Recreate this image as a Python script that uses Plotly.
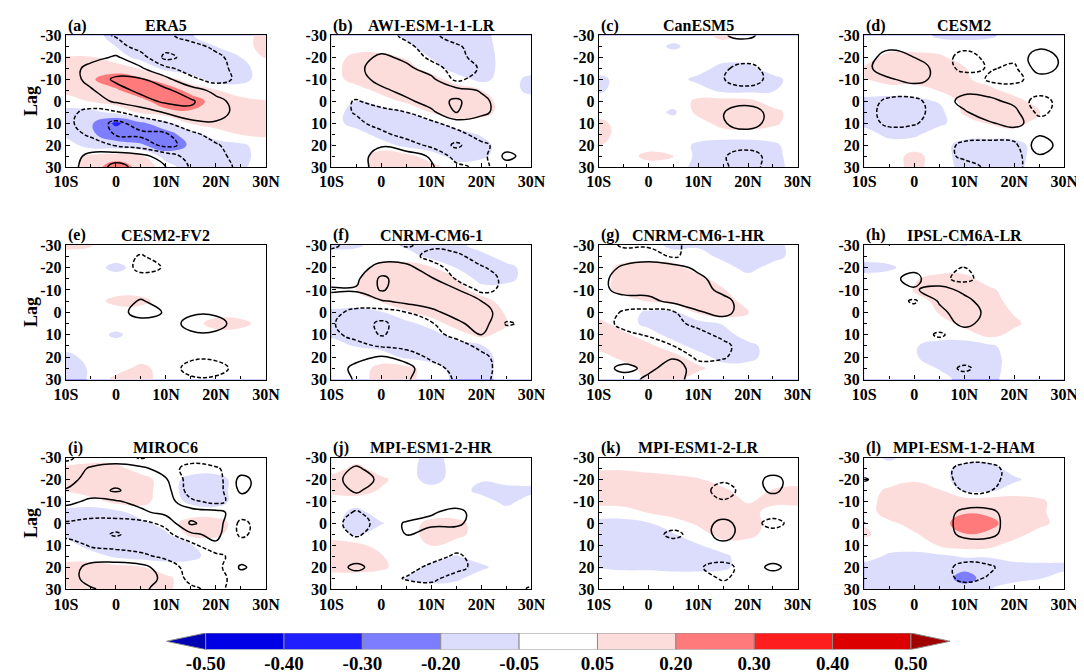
import numpy as np
import plotly.graph_objects as go

# grid: latitude (columns) and lag in days (rows)
lat = [-10, -5, 0, 5, 10, 15, 20, 25, 30]
lag = [-30, -25, -20, -15, -10, -5, 0, 5, 10, 15, 20, 25, 30]

lat_ticks = [-10, 0, 10, 20, 30]
lat_labels = ["10S", "0", "10N", "20N", "30N"]
lag_ticks = [-30, -20, -10, 0, 10, 20, 30]
lag_labels = ["-30", "-20", "-10", "0", "10", "20", "30"]

levels = [-0.5, -0.4, -0.3, -0.2, -0.05, 0.05, 0.2, 0.3, 0.4, 0.5]
level_labels = ["-0.50", "-0.40", "-0.30", "-0.20", "-0.05", "0.05", "0.20", "0.30", "0.40", "0.50"]
band_colors = ["#0000b4", "#0000e6", "#1e1eff", "#7d7dff", "#dcdcfd", "#ffffff",
               "#fddcdc", "#ff7a7a", "#ff1e1e", "#dc0000", "#a00000"]

letters = ["(a)", "(b)", "(c)", "(d)", "(e)", "(f)", "(g)", "(h)", "(i)", "(j)", "(k)", "(l)"]
models = ["ERA5", "AWI-ESM-1-1-LR", "CanESM5", "CESM2", "CESM2-FV2", "CNRM-CM6-1",
          "CNRM-CM6-1-HR", "IPSL-CM6A-LR", "MIROC6", "MPI-ESM1-2-HR", "MPI-ESM1-2-LR",
          "MPI-ESM-1-2-HAM"]

Z = [0, 0, 0, 0, 0, 0, 0, 0, 0]

# shaded field (rows = lag -30..30, cols = lat -10..30)
era5_fill = [
    [0, 0, -0.12, -0.15, -0.15, -0.06, 0, 0, 0.12],
    [0, 0, -0.05, -0.15, -0.15, -0.15, -0.05, 0, 0.12],
    [0.06, 0.06, 0, -0.1, -0.15, -0.15, -0.15, -0.05, 0.06],
    [0.15, 0.15, 0.12, 0.04, -0.1, -0.15, -0.15, -0.1, 0],
    [0.15, 0.18, 0.26, 0.22, 0.12, 0, -0.12, -0.1, 0],
    [0.1, 0.12, 0.18, 0.27, 0.26, 0.15, 0.06, 0, 0],
    [0, 0.06, 0.12, 0.15, 0.26, 0.25, 0.14, 0.1, 0.06],
    [-0.1, -0.1, -0.02, 0.08, 0.15, 0.18, 0.15, 0.15, 0.12],
    [-0.15, -0.18, -0.32, -0.22, -0.1, 0.06, 0.12, 0.15, 0.15],
    [-0.1, -0.18, -0.25, -0.27, -0.24, -0.12, 0, 0.06, 0.08],
    [0, -0.12, -0.15, -0.18, -0.26, -0.18, -0.12, -0.08, 0],
    [0, 0.08, 0.12, 0.08, -0.12, -0.15, -0.12, -0.1, 0],
    [0, 0.12, 0.26, 0.15, 0, -0.15, -0.12, -0.08, 0],
]
era5_line = [
    [0, 0, -1.2, -2.2, -1.5, 0, 0, 0, 0],
    [0, 0, 0, -2.0, -2.2, -1.8, -0.5, 0, 0],
    [0, 0.5, 1.2, 0, -3.6, -2.2, -1.5, 0, 0],
    [0.2, 1.5, 1.8, 1.2, -0.5, -2.0, -2.0, 0, 0],
    [0, 1.6, 3.4, 3.2, 1.5, -0.5, -1.8, -0.5, 0],
    [0, 0.8, 2.2, 3.5, 3.4, 1.8, 0.5, 0, 0],
    [0, 0, 1.3, 2.2, 3.4, 3.3, 1.5, 0.3, 0],
    [-0.5, -1.5, -1.2, 0, 1.2, 2.5, 1.8, 0.3, 0],
    [-0.6, -1.8, -3.5, -2.2, -1.2, 0.3, 0.8, 0, 0],
    [0, -1.4, -3.2, -3.4, -3.2, -1.5, -0.2, 0, 0],
    [0, 0, -1.2, -2.0, -3.5, -2.4, -1.2, 0, 0],
    [0, 1.5, 2.2, 1.6, 0, -1.8, -1.8, 0, 0],
    [0, 2.0, 3.5, 2.5, 1.0, -1.2, -2.0, -0.5, 0],
]

awi_fill = [
    [0, 0, 0, -0.08, -0.15, -0.15, -0.1, 0, 0],
    [0, 0, 0, -0.03, -0.12, -0.15, -0.12, 0, 0],
    [0, 0.1, 0.1, 0.04, -0.06, -0.15, -0.14, 0, 0],
    [0, 0.15, 0.15, 0.12, 0, -0.12, -0.14, 0, 0],
    [0, 0.12, 0.15, 0.15, 0.12, 0, -0.1, 0, -0.1],
    [0, 0, 0.1, 0.15, 0.15, 0.14, 0.05, 0, -0.1],
    [0, -0.05, 0, 0.08, 0.15, 0.15, 0.12, 0, 0],
    [0, -0.12, -0.12, -0.05, 0.06, 0.15, 0.12, 0, 0],
    [0, -0.12, -0.15, -0.15, -0.1, 0, 0, 0, 0],
    [0, 0, -0.12, -0.15, -0.15, -0.12, -0.04, 0, 0],
    [-0.06, 0, 0, -0.1, -0.15, -0.15, -0.1, 0, 0],
    [0, 0, 0.12, 0.1, 0, -0.12, -0.08, 0, 0],
    [0, 0, 0.15, 0.15, 0.1, 0, 0, 0, 0],
]
awi_line = [
    [0, 0, 0, -1.5, -1.5, 0, 0, 0, 0],
    [0, 0, 0, -0.5, -2.0, -1.3, 0, 0, 0],
    [0, 0, 1.5, 0.5, -1.5, -1.8, 0, 0, 0],
    [0, 0.5, 2.0, 1.5, 0, -2.0, -0.8, 0, 0],
    [0, 0, 1.8, 2.0, 1.5, -1.5, 0, 0, 0],
    [0, 0, 0.5, 1.8, 2.0, 1.8, 0.8, 0, 0],
    [0, -1.2, 0, 0.5, 2.0, 3.4, 1.5, 0, 0],
    [0, -1.2, -1.8, -1.0, 0.5, 3.1, 1.5, 0, 0],
    [0, -0.5, -1.8, -2.0, -1.5, 0, 0, 0, 0],
    [0, 0, -0.5, -1.8, -2.0, -1.8, 0, 0, 0],
    [0, 0, 0.8, 0, -1.5, -3.4, -1.5, 0, 0],
    [0, 0, 2.0, 1.8, 0.8, -1.8, -1.8, 1.6, 0],
    [0, 0, 2.0, 2.0, 1.2, -0.5, -1.5, 0, 0],
]

canesm5_fill = [
    [0, 0, 0, 0, 0, 0.1, 0, 0, 0],
    [0, 0, 0, -0.08, 0, 0, 0, 0, 0],
    Z,
    [0, 0, 0, 0, 0, -0.12, -0.1, 0, 0],
    [-0.1, 0, 0, 0, -0.1, -0.15, -0.15, -0.1, 0],
    [-0.08, 0, 0, 0, 0, -0.1, -0.1, -0.06, 0],
    [0, 0, 0, 0, 0.08, 0.12, 0.1, 0, 0],
    [0, 0, 0, -0.08, 0.1, 0.15, 0.15, 0.1, 0],
    [0.1, 0, 0, 0, 0, 0.12, 0.15, 0.08, 0],
    [0.12, 0, 0, 0, 0, 0, 0, 0, 0],
    [0.06, 0, 0, 0, -0.08, -0.12, -0.12, -0.08, 0],
    [0, 0, 0.1, 0.06, -0.1, -0.15, -0.15, -0.1, 0],
    [-0.06, 0, 0, 0, -0.1, -0.15, -0.15, -0.12, 0],
]
canesm5_line = [
    [0, 0, 0, 0, 0, 0.9, 1.4, 0, 0],
    Z,
    Z,
    [0, 0, 0, 0, 0, -0.7, -1.8, 0, 0],
    [0, 0, 0, 0, 0, -0.9, -2.5, 0, 0],
    Z,
    Z,
    [0, 0, 0, 0, 0, 0.9, 2.5, 0, 0],
    [0, 0, 0, 0, 0, 0.8, 2.2, 0, 0],
    Z,
    Z,
    [0, 0, 0, 0, 0, -0.8, -2.2, 0, 0],
    [0, 0, 0, 0, 0, -0.7, -2.0, 0, 0],
]

cesm2_fill = [
    [0, 0, 0, -0.08, -0.1, -0.08, 0, 0, 0],
    Z,
    [0, 0.12, 0.12, 0.08, 0, 0, 0, 0, 0],
    [0.08, 0.15, 0.15, 0.12, 0.06, 0, 0, 0, 0],
    [0.05, 0.12, 0.12, 0.12, 0.08, 0, 0, 0, 0],
    [0, 0, 0, 0.06, 0.12, 0.1, 0, 0, 0],
    [-0.1, -0.12, -0.1, -0.04, 0.1, 0.15, 0.12, 0, 0],
    [-0.12, -0.15, -0.15, -0.1, 0.08, 0.15, 0.15, 0.06, 0],
    [-0.1, -0.15, -0.15, -0.08, 0, 0.06, 0.12, 0, 0],
    [0, -0.1, -0.08, 0, 0, 0, 0, 0, 0],
    [0, 0, 0, 0, -0.12, -0.15, -0.12, 0, 0],
    [0, 0, 0.1, 0, -0.12, -0.15, -0.12, 0, 0],
    [0, 0, 0.1, 0, -0.1, -0.12, -0.1, 0, 0],
]
cesm2_line = [
    Z,
    [0, 0.5, 0, 0, -0.5, 0, 0, 0.6, 0],
    [0, 2.0, 1.0, 0, -1.8, -0.5, -0.5, 2.2, 0.5],
    [0.5, 2.0, 1.8, 0.5, -1.8, -0.8, -1.4, 2.0, 0.5],
    [0, 0.8, 1.6, 0.5, 0.5, -1.3, -1.6, 0, 0],
    [0, 0, 0, 0, 0.6, 0.2, 0, 0, 0],
    [0, -1.5, -1.5, 0, 1.6, 1.5, 0.5, -2.0, 0],
    [0, -2.0, -1.8, 0, 0.8, 2.0, 1.6, -1.6, 0],
    [0, -1.5, -1.2, 0, 0, 0.8, 1.6, 0, 0],
    [0, 0, 0, 0, 0, 0, 0, 0.8, 0],
    [0, 0, 0, 0, -1.5, -1.8, -1.5, 2.2, 0],
    [0, 0, 0, 0, -1.5, -2.0, -1.8, 0.8, 0],
    [0, 0, 0, 0, 0, -1.5, -1.5, 0, 0],
]

cesm2fv2_fill = [
    [0.1, 0.06, 0, 0, 0, 0, 0, 0, 0],
    Z,
    [0, 0, -0.1, 0, 0, 0, 0, 0, 0],
    Z,
    Z,
    [0, 0, 0.1, 0.1, 0, 0, 0, 0, 0],
    Z,
    [0, 0, 0, 0, 0, 0, 0.12, 0.1, 0],
    [0, 0, -0.08, 0, 0, 0, 0, 0, 0],
    Z,
    [-0.12, 0, 0, 0, 0, 0, 0, 0, 0],
    [-0.12, -0.04, 0, 0.1, 0, 0, 0, 0, 0],
    [-0.12, -0.04, 0.1, 0.12, 0, 0, 0, 0, 0],
]
cesm2fv2_line = [
    Z,
    [0, 0, 0, -1.2, 0, 0, 0, 0, 0],
    [0, 0, 0.8, -1.8, -0.8, 0, 0, 0, 0],
    Z,
    Z,
    [0, 0, 0, 1.2, 0, 0, 0, 0, 0],
    [0, 0, 0, 2.0, 0.8, 0.5, 0.5, 0, 0],
    [0, 0, 0, 0, -0.5, 2.0, 2.0, -0.3, 0],
    [0, 0, 0, 0, 0, 0.5, 0.5, 0, 0],
    Z,
    [0, 0, 0, 0, 0, -0.5, -0.5, 0, 0],
    [0, 0, 0, 0, 0.5, -2.0, -2.0, 0, 0],
    [0, 0, 0, 0, 0, -0.5, -0.5, 0, 0],
]

cnrm_fill = [
    [-0.1, -0.08, 0, -0.08, -0.12, -0.1, 0, 0, 0],
    [0, 0, 0, 0, -0.1, -0.15, -0.1, 0, 0],
    [0, 0, 0.1, 0.12, 0.06, -0.06, -0.15, -0.1, 0],
    [0, 0.04, 0.15, 0.15, 0.12, 0.05, -0.12, -0.1, 0],
    [0, 0.05, 0.15, 0.15, 0.15, 0.12, 0, 0, 0],
    [0, 0, 0.06, 0.12, 0.15, 0.15, 0.12, 0, 0],
    [-0.08, -0.1, -0.06, 0.04, 0.12, 0.15, 0.15, 0.04, 0],
    [-0.12, -0.15, -0.15, -0.1, 0, 0.12, 0.15, 0.06, 0],
    [-0.08, -0.12, -0.15, -0.15, -0.12, 0, 0.1, 0, 0],
    [0, -0.06, -0.1, -0.15, -0.15, -0.12, -0.06, 0, 0],
    [0, 0, 0, -0.08, -0.12, -0.15, -0.12, 0, 0],
    [0, 0, 0.1, 0.1, 0, -0.12, -0.12, 0, 0],
    [0, 0, 0.12, 0.1, 0, -0.08, -0.12, 0, 0],
]
cnrm_line = [
    [-1.5, 0, 0, -1.2, -0.5, 0, 0, 0, 0],
    [0, 0, 0, 0, -1.8, -1.5, 0, 0, 0],
    [0, 0, 1.8, 1.5, 0, -2.0, -1.2, 0, 0],
    [0, 0.6, 3.4, 2.0, 1.2, -1.2, -2.0, -0.5, 0],
    [1.3, 1.2, 3.2, 2.0, 1.8, 1.2, -1.6, -0.5, 0],
    [0, 0, 0.8, 1.6, 2.0, 1.8, 1.0, 0, 0],
    [-0.5, -1.5, -1.8, -1.0, 0.5, 1.8, 1.8, 0, 0],
    [-0.8, -2.0, -3.4, -2.0, -1.2, 0.5, 2.0, -1.2, -0.6],
    [-0.6, -1.5, -3.2, -2.0, -1.6, -0.5, 1.0, 0, 0],
    [0, -0.5, -1.2, -1.8, -2.0, -1.8, -0.5, 0, 0],
    [0, 0.5, 1.2, 0.5, -1.5, -2.0, -1.5, 0, 0],
    [0, 1.5, 2.0, 1.5, 0, -1.8, -1.8, 0, 0],
    [0, 1.2, 2.0, 1.2, 0, -1.2, -1.6, 0, 0],
]

cnrmhr_fill = [
    [0, 0, 0, -0.1, -0.08, -0.12, -0.15, -0.12, 0],
    [0, 0, 0, 0, 0, -0.1, -0.15, -0.12, 0],
    [0, 0.1, 0.12, 0.1, 0, 0, -0.12, 0, 0],
    [0, 0.12, 0.15, 0.15, 0.1, 0, 0, 0, 0],
    [0, 0.12, 0.15, 0.15, 0.14, 0.06, 0, 0, 0],
    [0, 0, 0.06, 0.12, 0.15, 0.14, 0, 0, 0],
    [0, 0, -0.08, -0.08, 0.08, 0.15, 0.06, 0, 0],
    [0.1, 0, -0.1, -0.12, -0.12, -0.04, 0, 0, 0],
    [0.12, 0.08, 0, -0.12, -0.15, -0.12, 0, 0, 0],
    [0.12, 0.12, 0.08, 0, -0.12, -0.15, -0.1, 0, 0],
    [0, 0.1, 0.12, 0.1, 0, -0.12, -0.1, 0, 0],
    [0, 0, 0.12, 0.12, 0.08, 0, 0, 0, 0],
    [0, 0, 0.08, 0.12, 0, 0, 0, 0, 0],
]
cnrmhr_line = [
    [0, -1.3, -1.3, -1.5, 0, 0, 0, 0, 0],
    [0, 0, 0, -1.3, 0, 0, 0, 0, 0],
    [0, 1.3, 2.0, 1.8, 0.5, 0, 0, 0, 0],
    [0.3, 2.0, 2.0, 2.0, 1.5, 0, 0, 0, 0],
    [0.3, 1.8, 1.6, 2.0, 1.8, 0.5, 0, 0, 0],
    [0, 0, 0.5, 1.5, 2.0, 1.6, 0, 0, 0],
    [0, -1.2, -1.6, -1.2, 0.8, 1.6, 0, 0, 0],
    [0, -1.6, -1.8, -1.5, -0.5, 0, 0, 0, 0],
    [0, -0.5, -1.2, -1.8, -1.6, -0.5, 0, 0, 0],
    [0, 0, 0, -1.0, -1.8, -1.5, 0, 0, 0],
    [0, 0, 1.0, 0.8, -1.5, -1.2, 0, 0, 0],
    [0, 1.6, 0.5, 2.0, 0, 0, 0, 0, 0],
    [0, 0, 1.5, 1.8, 0, 0, 0, 0, 0],
]

ipsl_fill = [
    [0, 0, 0, 0, -0.06, 0, 0, 0, 0],
    Z,
    [-0.12, -0.08, 0, 0, 0, 0, 0, 0, 0],
    [0, 0, 0.04, 0.1, 0.1, 0, 0, 0, 0],
    [0, 0, 0.06, 0.15, 0.15, 0.08, 0, 0, 0],
    [0, 0, 0, 0.1, 0.15, 0.14, 0, 0, 0],
    [0, 0, 0, 0.06, 0.15, 0.15, 0.04, 0, 0],
    [0, 0, 0, 0, 0.1, 0.15, 0.08, 0, 0],
    [0, 0, 0, 0, 0, 0.1, 0.02, 0, 0],
    [0, 0, -0.04, -0.12, -0.12, -0.08, 0, 0, 0],
    [0, 0, -0.04, -0.12, -0.15, -0.12, 0, 0, 0],
    [0, 0, 0, -0.06, -0.15, -0.12, 0, 0, 0],
    [0, 0, 0, 0, -0.12, -0.1, 0, 0, 0],
]
ipsl_line = [
    [0, -1.1, 0, 0, 0, 0, 0, 0, 0],
    Z,
    [0, 0, 0.5, 0, -1.1, 0, 0, 0, 0],
    [0, 0.5, 1.6, -0.5, -1.6, 0, 0, 0, 0],
    [0, 0, 0.8, 1.8, 0.5, 0, 0, 0, 0],
    [0, 0, -1.3, 1.2, 1.6, 0, 0, 0, 0],
    [0, 0, 0, 0.5, 2.0, 0.5, 0, 0, 0],
    [0, 0, 0, 0, 1.5, 0.3, 0, 0, 0],
    [0, 0, 0, -1.3, 0, 0, 0, 0, 0],
    Z,
    Z,
    [0, 0, 0, 0, -1.4, 0, 0, 0, 0],
    Z,
]

miroc6_fill = [
    Z,
    [0.08, 0.12, 0.1, 0, 0, 0, 0, 0, 0],
    [0.12, 0.15, 0.15, 0.12, 0, -0.1, -0.12, 0, 0],
    [0.06, 0.15, 0.15, 0.12, 0, -0.12, -0.12, 0, 0],
    [0, 0, 0.1, 0.1, 0, -0.08, -0.12, 0, 0],
    [-0.1, -0.12, -0.1, 0, 0, 0, 0, 0, 0],
    [-0.12, -0.15, -0.15, -0.1, 0, 0.12, 0.12, 0, 0],
    [-0.1, -0.15, -0.15, -0.12, -0.08, 0.1, 0.08, 0, 0],
    [0, -0.12, -0.15, -0.15, -0.12, -0.06, 0, 0, 0],
    [0, 0, -0.08, -0.12, -0.12, -0.1, 0, 0, 0],
    [0.12, 0.12, 0.1, 0.06, 0, 0, 0, 0, 0],
    [0.12, 0.15, 0.15, 0.12, 0.08, 0, 0, 0, 0],
    [0.04, 0.12, 0.15, 0.12, 0.08, 0, 0, 0, 0],
]
miroc6_line = [
    [-1.5, 0, 0, -1.2, 0, 0, 0, 0, 0],
    [0, 1.2, 1.8, 1.5, 0, -1.8, -1.2, 0, 0],
    [0, 2.0, 2.0, 2.0, 1.2, -2.0, -2.0, 1.6, 0],
    [1.2, 2.0, 3.3, 1.8, 1.8, -2.0, -2.0, 1.4, 0],
    [1.6, 0.6, 0.8, 1.6, 2.0, -0.6, -1.6, 0, 0],
    [0, 0, 0, 0.6, 1.6, 2.0, 1.6, 0, 0],
    [-1.2, -1.8, -1.8, -1.6, -0.5, 3.3, 2.0, -1.5, 0],
    [-1.6, -2.0, -3.3, -1.8, -1.6, 0.6, 1.6, -1.4, 0],
    [0, -1.2, -1.6, -1.8, -1.8, -1.6, 0.6, 0, 0],
    [0, 0, 0, -0.6, -1.4, -1.8, -1.6, 0, 0],
    [0, 1.6, 1.8, 1.6, 0, -1.8, -1.8, 1.3, 0],
    [0, 1.8, 2.0, 1.8, 0.6, -1.6, -1.8, 0, 0],
    [0, 0.8, 1.8, 1.5, 0, -0.6, -1.6, 0, 0],
]

mpihr_fill = [
    [0, 0, 0, 0, -0.12, 0, 0, 0, 0],
    [0, 0.1, 0, 0, -0.15, 0, 0, 0, 0],
    [0.12, 0.15, 0.08, 0, -0.12, 0, -0.04, 0, 0],
    [0.1, 0.12, 0.04, 0, 0, 0, -0.1, -0.12, -0.1],
    [0, 0, 0, 0, 0, 0, 0, -0.1, 0],
    [0, -0.1, 0, 0, 0, 0, 0, 0, 0],
    [0, -0.14, -0.06, 0, 0.1, 0.1, 0, 0, 0],
    [0, -0.08, 0, 0, 0.12, 0.1, 0, 0, 0],
    [0.12, 0.1, 0, 0, 0.06, 0, 0, 0, 0],
    [0.15, 0.15, 0.06, 0, 0, -0.06, 0, 0, 0],
    [0.12, 0.12, 0.08, 0, -0.1, -0.12, -0.08, 0, 0],
    [0, 0, 0, -0.06, -0.12, -0.08, 0, 0, 0],
    Z,
]
mpihr_line = [
    Z,
    [0, 1.3, 0, 0, 0, 0, 0, 0, 0],
    [0, 2.2, 0.5, 0, 0, 0, 0, 0, 0],
    [0, 1.3, 0, 0, 0, 0, 0, 0, 0],
    Z,
    [0, -1.2, 0, 0, 0.8, 1.6, 0, 0, 0],
    [0, -2.2, 0, 1.2, 1.5, 1.4, 0, 0, 0],
    [0, -1.3, 0, 1.1, 0, 0, 0, 0, 0],
    Z,
    [0, 0, 0, 0, 0, -1.4, 0, 0, 0],
    [0, 1.5, 0, 0, -1.6, -1.8, 0, 0, 0],
    [0, 0, 0, -1.2, -1.6, 0, 0, 0, 0],
    [0, 0, 0, 0, 0, 0, 0, 0, -1.3],
]

mpilr_fill = [
    [0, 0, 0, -0.06, 0, 0, 0, 0, 0],
    [0.04, 0.04, 0.02, 0, 0, 0, 0, 0, 0],
    [0.12, 0.12, 0.12, 0.1, 0.06, 0, 0, 0, 0],
    [0.15, 0.15, 0.15, 0.15, 0.12, 0.08, 0, 0.06, 0.1],
    [0.1, 0.12, 0.12, 0.15, 0.15, 0.12, 0.04, 0.1, 0.1],
    [0, 0, 0.06, 0.12, 0.15, 0.15, 0.12, 0, 0],
    [-0.1, -0.1, -0.06, 0, 0.08, 0.15, 0.15, 0, 0],
    [-0.12, -0.12, -0.1, -0.06, 0, 0.12, 0.1, 0, 0],
    [-0.12, -0.15, -0.12, -0.1, -0.06, 0, 0, 0, 0],
    [-0.1, -0.12, -0.12, -0.12, -0.12, -0.08, 0, 0, 0],
    [-0.06, -0.08, -0.08, -0.1, -0.1, -0.08, 0, 0, 0],
    Z,
    Z,
]
mpilr_line = [
    Z,
    Z,
    [0, 0, 0, 0, 0, -0.6, 0, 1.6, 0],
    [0, 0, 0, 0, 0, -2.0, 0, 1.4, 0],
    [0, 0, 0, 0, 0, -0.8, 0, 0, 0],
    Z,
    [0, 0, 0, 0, 0, 1.6, 0, -1.8, 0],
    [0, 0, 0, -1.6, 0, 1.8, 0, 0, 0],
    [0, 0, 0, 0, 0, 0.5, 0, 0, 0],
    Z,
    [0, 0, 0, 0, -0.8, -1.8, 0, 1.5, 0],
    [0, 0, 0, 0, 0, -1.3, 0, 0, 0],
    Z,
]

ham_fill = [
    [0, -0.08, 0, 0, 0, 0, 0, 0, 0],
    [0, 0, 0, 0, -0.12, -0.12, 0, 0, 0],
    [0, 0, 0.04, 0, -0.14, -0.14, -0.08, 0, 0],
    [0, 0.08, 0.1, 0.06, -0.08, -0.08, 0, 0, 0],
    [0, 0.12, 0.15, 0.15, 0.15, 0.15, 0.12, 0.08, 0],
    [0, 0.12, 0.15, 0.15, 0.18, 0.18, 0.15, 0.08, 0],
    [0.04, 0.03, 0.1, 0.12, 0.27, 0.22, 0.15, 0.1, 0],
    [0.08, 0, 0.04, 0.12, 0.19, 0.18, 0.12, 0, 0],
    [0, 0, 0, 0.06, 0.12, 0.1, 0, 0, 0],
    [0, -0.08, -0.1, -0.08, -0.04, -0.04, 0, 0, 0],
    [-0.12, -0.12, -0.1, -0.12, -0.15, -0.15, -0.12, -0.1, -0.1],
    [-0.12, -0.12, -0.1, -0.1, -0.25, -0.12, -0.1, -0.06, 0],
    [-0.1, -0.1, -0.1, -0.08, -0.12, -0.06, 0, 0, 0],
]
ham_line = [
    Z,
    [0, 0, 0, 0, -1.8, -1.8, 0, 0, 0],
    [1.2, 0, 0, 0, -1.8, -1.8, 0, 0, 0],
    [0, 0, 0, 0, -1.1, -1.1, 0, 0, 0],
    Z,
    [0, 0, 0, 0, 1.5, 1.5, 0, 0, 0],
    [-1.1, 0, 0, 0, 1.8, 1.8, 0, 0, 0],
    [0, 0, 0, 0, 1.5, 1.5, 0, 0, 0],
    Z,
    Z,
    [0, 0, 0, 0, -1.8, -1.3, 0, 0, 0],
    [0, 0, 0, 0, -1.6, -0.8, 0, 0, 0],
    Z,
]

fills = [era5_fill, awi_fill, canesm5_fill, cesm2_fill, cesm2fv2_fill, cnrm_fill,
         cnrmhr_fill, ipsl_fill, miroc6_fill, mpihr_fill, mpilr_fill, ham_fill]
lines = [era5_line, awi_line, canesm5_line, cesm2_line, cesm2fv2_line, cnrm_line,
         cnrmhr_line, ipsl_line, miroc6_line, mpihr_line, mpilr_line, ham_line]

W, H = 1084, 672
col_left = [47, 319, 593, 865]
col_right = [252, 524, 797, 1070]
row_top = [20, 235, 453]
row_bottom = [155, 373, 588]

FONT = "Liberation Serif"

# map the uneven shading levels onto equal bands so contour fill can use them
edges = [-1.0] + levels + [1.0]
def to_band(z):
    return np.interp(np.array(z, dtype=float), edges, np.arange(len(edges)))

# repeat the border rows/cols just outside the frame so fills reach the edges cleanly
x_pad = [lat[0] - 2.5] + lat + [lat[-1] + 2.5]
y_pad = [lag[0] - 2.5] + lag + [lag[-1] + 2.5]
def pad(z):
    return np.pad(np.array(z, dtype=float), 1, mode="edge")

fill_scale = [[k / 10, c] for k, c in enumerate(band_colors)]

fig = go.Figure()
annotations = []
for i in range(12):
    r, c = divmod(i, 4)
    n = i + 1
    xa, ya = ("x", "y") if n == 1 else (f"x{n}", f"y{n}")

    fig.add_trace(go.Contour(
        x=x_pad, y=y_pad, z=pad(to_band(fills[i])), xaxis=xa, yaxis=ya,
        autocontour=False, contours=dict(start=1, end=10, size=1, coloring="fill"),
        colorscale=fill_scale, line=dict(width=0, smoothing=1.3),
        showscale=False, hoverinfo="skip"))
    fig.add_trace(go.Contour(
        x=x_pad, y=y_pad, z=pad(lines[i]), xaxis=xa, yaxis=ya,
        autocontour=False, contours=dict(start=1, end=3, size=2, coloring="none"),
        line=dict(color="black", width=1.5, smoothing=1.3),
        showscale=False, hoverinfo="skip"))
    fig.add_trace(go.Contour(
        x=x_pad, y=y_pad, z=pad(lines[i]), xaxis=xa, yaxis=ya,
        autocontour=False, contours=dict(start=-3, end=-1, size=2, coloring="none"),
        line=dict(color="black", width=1.5, smoothing=1.3, dash="4px,2px"),
        showscale=False, hoverinfo="skip"))

    tickfont = dict(family=FONT, size=16, color="black", weight="bold")
    axis_common = dict(showline=True, mirror=True, linecolor="black", linewidth=1.4,
                       showgrid=False, zeroline=False, ticks="inside", ticklen=4,
                       tickcolor="black", tickfont=tickfont)
    fig.layout[f"xaxis{n}"] = dict(
        domain=[col_left[c] / W, col_right[c] / W], anchor=ya, range=[-10, 30],
        tickmode="array", tickvals=lat_ticks, ticktext=lat_labels,
        minor=dict(tickmode="linear", tick0=-10, dtick=5, ticks="inside", ticklen=3,
                   tickcolor="black"),
        **axis_common)
    fig.layout[f"yaxis{n}"] = dict(
        domain=[1 - row_bottom[r] / H, 1 - row_top[r] / H], anchor=xa, range=[30, -30],
        tickmode="array", tickvals=lag_ticks, ticktext=lag_labels,
        minor=dict(tickmode="linear", tick0=-30, dtick=5, ticks="inside", ticklen=3,
                   tickcolor="black"),
        **axis_common)

    ty = 1 - (row_top[r] - 10) / H
    annotations.append(dict(x=col_left[c] / W, y=ty, xref="paper", yref="paper",
                            text=letters[i], showarrow=False, xanchor="left", yanchor="middle",
                            font=dict(family=FONT, size=16, color="black", weight="bold")))
    annotations.append(dict(x=(col_left[c] + col_right[c]) / 2 / W, y=ty, xref="paper",
                            yref="paper", text=models[i], showarrow=False, xanchor="center",
                            yanchor="middle",
                            font=dict(family=FONT, size=16, color="black", weight="bold")))
    if c == 0:
        annotations.append(dict(x=12 / W, y=1 - (row_top[r] + row_bottom[r]) / 2 / H,
                                xref="paper", yref="paper", text="Lag", textangle=-90,
                                showarrow=False, xanchor="center", yanchor="middle",
                                font=dict(family=FONT, size=18, color="black", weight="bold")))

# colour bar drawn as its own strip of boxes with pointed ends
for k in range(9):
    fig.add_trace(go.Scatter(x=[k, k + 1, k + 1, k, k], y=[0, 0, 1, 1, 0], mode="lines",
                             fill="toself", fillcolor=band_colors[k + 1],
                             line=dict(color="#8c8c8c", width=1), xaxis="x13", yaxis="y13",
                             hoverinfo="skip", showlegend=False))
fig.add_trace(go.Scatter(x=[0, -0.5, 0, 0], y=[0, 0.5, 1, 0], mode="lines", fill="toself",
                         fillcolor=band_colors[0], line=dict(color="#8c8c8c", width=1),
                         xaxis="x13", yaxis="y13", hoverinfo="skip", showlegend=False))
fig.add_trace(go.Scatter(x=[9, 9.5, 9, 9], y=[0, 0.5, 1, 0], mode="lines", fill="toself",
                         fillcolor=band_colors[-1], line=dict(color="#8c8c8c", width=1),
                         xaxis="x13", yaxis="y13", hoverinfo="skip", showlegend=False))

fig.layout["xaxis13"] = dict(domain=[150 / W, 953 / W], anchor="y13", range=[-0.5, 9.5],
                             tickmode="array", tickvals=list(range(10)), ticktext=level_labels,
                             showline=False, showgrid=False, zeroline=False, ticks="",
                             tickfont=dict(family=FONT, size=19, color="black", weight="bold"))
fig.layout["yaxis13"] = dict(domain=[1 - 650 / H, 1 - 633 / H], anchor="x13", range=[0, 1],
                             visible=False)

fig.update_layout(width=W, height=H, margin=dict(l=0, r=0, t=0, b=0),
                  paper_bgcolor="white", plot_bgcolor="white", showlegend=False,
                  annotations=annotations)

fig.write_html("out.html")
